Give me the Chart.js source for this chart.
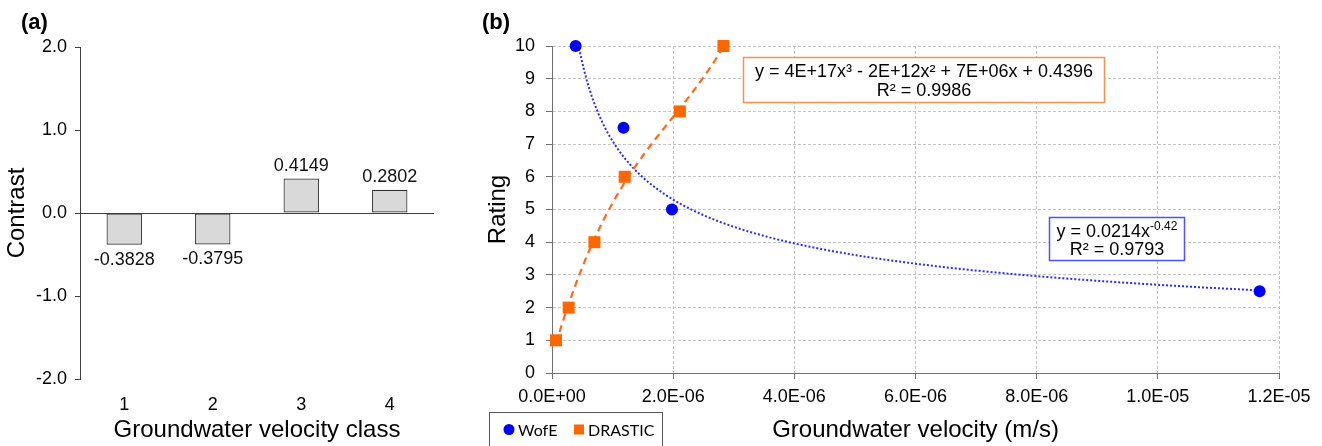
<!DOCTYPE html>
<html>
<head>
<meta charset="utf-8">
<script src="https://cdn.jsdelivr.net/npm/chart.js@4.4.1/dist/chart.umd.min.js"></script>
<style>
    html, body { margin: 0; padding: 0; background: #fff; }
    #wrap { position: relative; width: 1322px; height: 446px; overflow: hidden; }
    #boxA { position: absolute; left: 0; top: 0; width: 450px; height: 446px; }
    #boxB { position: absolute; left: 470px; top: 0; width: 852px; height: 446px; }
</style>
</head>
<body>
<div id="wrap">
    <div id="boxA"><canvas id="chartA"></canvas></div>
    <div id="boxB"><canvas id="chartB"></canvas></div>
</div>
<script>
// panel (a)
const velocityClass = ["1", "2", "3", "4"];
const contrast = [-0.3828, -0.3795, 0.4149, 0.2802];

// panel (b)
const wofeVelocity = [0.39e-6, 1.18e-6, 1.98e-6, 11.68e-6];
const wofeRating = [10, 7.5, 5, 2.5];
const drasticVelocity = [0.066e-6, 0.275e-6, 0.70e-6, 1.2e-6, 2.11e-6, 2.83e-6];
const drasticRating = [1, 2, 4, 6, 8, 10];

const drasticEquation = ["y = 4E+17x³ - 2E+12x² + 7E+06x + 0.4396", "R² = 0.9986"];
const wofeEquation = ["y = 0.0214x", "-0.42", "R² = 0.9793"];

const FONT = "'Liberation Sans', Arial, sans-serif";
Chart.defaults.font.family = FONT;
Chart.defaults.color = "#000";

// 0.0E+00 style
function sci(v) {
    const parts = v.toExponential(1).split("e");
    const n = parseInt(parts[1], 10);
    return parts[0] + "E" + (n < 0 ? "-" : "+") + String(Math.abs(n)).padStart(2, "0");
}

// trendlines, fitted like the spreadsheet does
function fitPower(xs, ys) {
    const lx = xs.map(Math.log), ly = ys.map(Math.log);
    const n = xs.length;
    const mx = lx.reduce((s, v) => s + v, 0) / n;
    const my = ly.reduce((s, v) => s + v, 0) / n;
    let sxy = 0, sxx = 0;
    for (let i = 0; i < n; i++) {
        sxy += (lx[i] - mx) * (ly[i] - my);
        sxx += (lx[i] - mx) * (lx[i] - mx);
    }
    const b = sxy / sxx;
    const a = Math.exp(my - b * mx);
    return (x) => a * Math.pow(x, b);
}

function fitPoly(xs, ys, deg, k) {
    const m = deg + 1;
    const A = [], r = [];
    for (let i = 0; i < m; i++) {
        A.push(new Array(m).fill(0));
        r.push(0);
    }
    xs.forEach((x0, idx) => {
        const x = x0 * k;
        for (let i = 0; i < m; i++) {
            r[i] += ys[idx] * Math.pow(x, i);
            for (let j = 0; j < m; j++) A[i][j] += Math.pow(x, i + j);
        }
    });
    // gauss
    for (let c = 0; c < m; c++) {
        let p = c;
        for (let i = c + 1; i < m; i++) if (Math.abs(A[i][c]) > Math.abs(A[p][c])) p = i;
        [A[c], A[p]] = [A[p], A[c]];
        [r[c], r[p]] = [r[p], r[c]];
        for (let i = c + 1; i < m; i++) {
            const f = A[i][c] / A[c][c];
            for (let j = c; j < m; j++) A[i][j] -= f * A[c][j];
            r[i] -= f * r[c];
        }
    }
    const coef = new Array(m).fill(0);
    for (let i = m - 1; i >= 0; i--) {
        let s = r[i];
        for (let j = i + 1; j < m; j++) s -= A[i][j] * coef[j];
        coef[i] = s / A[i][i];
    }
    return (x0) => coef.reduce((s, c, i) => s + c * Math.pow(x0 * k, i), 0);
}

const wofeTrend = fitPower(wofeVelocity, wofeRating);
const drasticTrend = fitPoly(drasticVelocity, drasticRating, 3, 1e6);

function panelLabel(text, x) {
    return {
        id: "panelLabel",
        afterDraw(chart) {
            const ctx = chart.ctx;
            ctx.save();
            ctx.font = "bold 22px " + FONT;
            ctx.fillStyle = "#000";
            ctx.textBaseline = "alphabetic";
            ctx.fillText(text, x, 29);
            ctx.restore();
        },
    };
}

const barValues = {
    id: "barValues",
    afterDatasetsDraw(chart) {
        const ctx = chart.ctx;
        const meta = chart.getDatasetMeta(0);
        ctx.save();
        ctx.font = "18px " + FONT;
        ctx.fillStyle = "#111";
        ctx.textAlign = "center";
        ctx.textBaseline = "middle";
        meta.data.forEach((bar, i) => {
            const v = contrast[i];
            ctx.fillText(v.toFixed(4), bar.x, v >= 0 ? bar.y - 13 : bar.y + 15);
        });
        ctx.restore();
    },
};

function drawCurve(ctx, xs, ys, fn, x0, x1, color, width, dash) {
    ctx.beginPath();
    const steps = 300;
    for (let i = 0; i <= steps; i++) {
        const x = x0 + (x1 - x0) * i / steps;
        const px = xs.getPixelForValue(x), py = ys.getPixelForValue(fn(x));
        if (i === 0) ctx.moveTo(px, py);
        else ctx.lineTo(px, py);
    }
    ctx.strokeStyle = color;
    ctx.lineWidth = width;
    ctx.setLineDash(dash);
    ctx.stroke();
}

const trendlines = {
    id: "trendlines",
    beforeDatasetsDraw(chart) {
        const { ctx, chartArea: a, scales } = chart;
        ctx.save();
        ctx.beginPath();
        ctx.rect(a.left, a.top, a.right - a.left, a.bottom - a.top);
        ctx.clip();
        drawCurve(ctx, scales.x, scales.y, wofeTrend,
            Math.min(...wofeVelocity), Math.max(...wofeVelocity), "#2b2bff", 2, [2, 2]);
        drawCurve(ctx, scales.x, scales.y, drasticTrend,
            Math.min(...drasticVelocity), Math.max(...drasticVelocity), "#ff6a1a", 2.2, [7, 5]);
        ctx.restore();
    },
};

const notes = {
    id: "notes",
    afterDraw(chart) {
        const ctx = chart.ctx;
        ctx.save();
        // cubic fit box
        ctx.fillStyle = "#fff";
        ctx.fillRect(273, 57, 361, 45);
        ctx.strokeStyle = "#f7914e";
        ctx.lineWidth = 1.5;
        ctx.strokeRect(273.5, 57.5, 361, 45);
        ctx.fillStyle = "#000";
        ctx.font = "18px " + FONT;
        ctx.textAlign = "center";
        ctx.textBaseline = "alphabetic";
        ctx.fillText(drasticEquation[0], 454, 77);
        ctx.fillText(drasticEquation[1], 454, 95.5);

        // power fit box
        ctx.fillStyle = "#fff";
        ctx.fillRect(579, 217, 135, 43);
        ctx.strokeStyle = "#4a55ff";
        ctx.strokeRect(579.5, 217.5, 135, 43);
        ctx.fillStyle = "#000";
        ctx.font = "18px " + FONT;
        const w1 = ctx.measureText(wofeEquation[0]).width;
        ctx.font = "12px " + FONT;
        const w2 = ctx.measureText(wofeEquation[1]).width;
        const sx = 647 - (w1 + w2) / 2;
        ctx.textAlign = "left";
        ctx.font = "18px " + FONT;
        ctx.fillText(wofeEquation[0], sx, 237);
        ctx.font = "12px " + FONT;
        ctx.fillText(wofeEquation[1], sx + w1, 230);
        ctx.font = "18px " + FONT;
        ctx.textAlign = "center";
        ctx.fillText(wofeEquation[2], 647, 254.5);

        // legend
        ctx.fillStyle = "#fff";
        ctx.fillRect(19, 412, 173, 40);
        ctx.strokeStyle = "#555";
        ctx.lineWidth = 1;
        ctx.strokeRect(19.5, 412.5, 173, 40);
        const ds = chart.data.datasets;
        ctx.font = "16px Lato, " + FONT;
        ctx.textAlign = "left";
        ctx.fillStyle = ds[0].backgroundColor;
        ctx.beginPath();
        ctx.arc(39, 429.5, 5.5, 0, Math.PI * 2);
        ctx.fill();
        ctx.fillStyle = "#000";
        ctx.fillText(ds[0].label, 48, 435.5);
        ctx.fillStyle = ds[1].backgroundColor;
        ctx.fillRect(104, 424.5, 10, 10);
        ctx.fillStyle = "#000";
        ctx.fillText(ds[1].label, 118, 435.5);
        ctx.restore();
    },
};

new Chart(document.getElementById("chartA"), {
    type: "bar",
    data: {
        labels: velocityClass,
        datasets: [
            {
                data: contrast,
                backgroundColor: "#d9d9d9",
                borderColor: "#333",
                borderWidth: 1.2,
                borderSkipped: false,
                barPercentage: 0.4,
                categoryPercentage: 1,
            },
        ],
    },
    options: {
        responsive: true,
        maintainAspectRatio: false,
        animation: false,
        layout: { padding: { top: 47, right: 16, left: 0, bottom: 0 } },
        plugins: { legend: { display: false }, tooltip: { enabled: false } },
        scales: {
            x: {
                grid: { display: false },
                border: { display: false },
                ticks: { font: { size: 18 }, padding: 7 },
                title: {
                    display: true,
                    text: "Groundwater velocity class",
                    font: { size: 24 },
                    padding: { top: 0, bottom: 1 },
                },
                afterFit: (s) => { s.height = 67; },
            },
            y: {
                min: -2,
                max: 2,
                ticks: { stepSize: 1, font: { size: 18 }, padding: 8, callback: (v) => v.toFixed(1) },
                grid: {
                    color: (c) => (c.tick && c.tick.value === 0 ? "#404040" : "rgba(0,0,0,0)"),
                    tickColor: "#404040",
                    tickLength: 5,
                },
                border: { color: "#404040" },
                title: { display: true, text: "Contrast", font: { size: 24 }, padding: { top: 3, bottom: 0 } },
                afterFit: (s) => { s.width = 80; },
            },
        },
    },
    plugins: [barValues, panelLabel("(a)", 21)],
});

new Chart(document.getElementById("chartB"), {
    type: "scatter",
    data: {
        datasets: [
            {
                label: "WofE",
                data: wofeVelocity.map((x, i) => ({ x: x, y: wofeRating[i] })),
                pointStyle: "circle",
                pointRadius: 6,
                backgroundColor: "#0000ff",
                borderColor: "#0000ff",
                borderWidth: 0,
                clip: false,
            },
            {
                label: "DRASTIC",
                data: drasticVelocity.map((x, i) => ({ x: x, y: drasticRating[i] })),
                pointStyle: "rect",
                pointRadius: 8.5,
                backgroundColor: "#ff6600",
                borderColor: "#ff6600",
                borderWidth: 0,
                clip: false,
            },
        ],
    },
    options: {
        responsive: true,
        maintainAspectRatio: false,
        animation: false,
        layout: { padding: { top: 46, right: 43, left: 0, bottom: 0 } },
        plugins: { legend: { display: false }, tooltip: { enabled: false } },
        scales: {
            x: {
                type: "linear",
                min: 0,
                max: 1.2e-5,
                ticks: { stepSize: 2e-6, font: { size: 18 }, padding: 7, callback: (v) => sci(v) },
                grid: { color: "#c4c4c4", tickColor: "#707070", tickLength: 6 },
                border: { color: "#707070", dash: [3, 2] },
                title: {
                    display: true,
                    text: "Groundwater velocity (m/s)",
                    font: { size: 24 },
                    padding: { top: 0, bottom: 1 },
                },
                afterFit: (s) => { s.height = 73; },
            },
            y: {
                min: 0,
                max: 10,
                ticks: { stepSize: 1, font: { size: 18 }, padding: 11 },
                grid: { color: "#c4c4c4", tickColor: "#707070", tickLength: 6 },
                border: { color: "#707070", dash: [3, 2] },
                title: { display: true, text: "Rating", font: { size: 24 }, padding: { top: 14, bottom: 0 } },
                afterFit: (s) => { s.width = 82; },
            },
        },
    },
    plugins: [trendlines, notes, panelLabel("(b)", 12)],
});
</script>
</body>
</html>
